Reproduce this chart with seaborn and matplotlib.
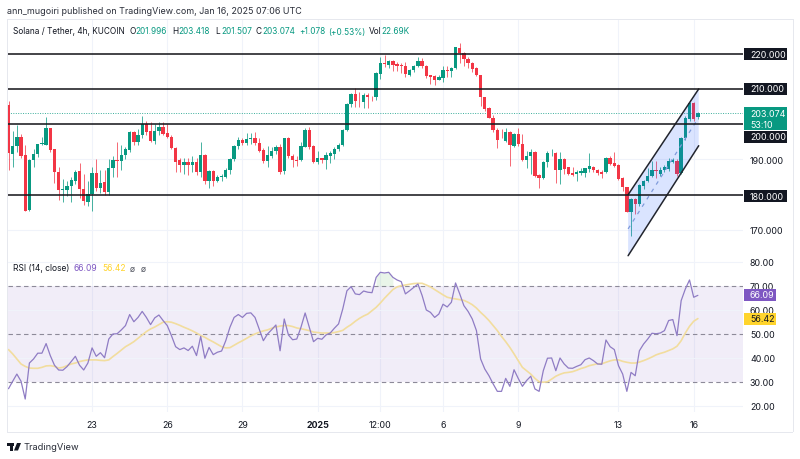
import numpy as np
import pandas as pd
import seaborn as sns
import matplotlib
matplotlib.use("Agg")
import matplotlib.pyplot as plt
from matplotlib.patches import Rectangle, Polygon

opens = [205.4,191.6,193.7,196.3,191.2,175.8,189.8,191.5,194.4,194.2,198.8,192.9,186.5,181.3,181.2,182.4,184,186.6,181.6,178,180.2,186.2,182,183.5,180.7,187.5,189.9,189.7,191.4,192.8,197.7,195,196.8,200,198,195.3,198,199.1,197.4,196.4,193.3,189.9,188.5,189.2,188.3,189.4,186.4,191.4,183.8,186.8,184,185,185,187,190,193.7,195.5,194.7,195.8,196,194.8,
 192.7,189.7,191.1,192.3,193.4,186.8,196.1,191.1,189.8,189.8,193.6,198.4,193.7,189.2,190.3,189.8,191.1,191.5,193,194,198.4,205.7,208.5,207,206.4,208.3,207.8,207.6,214.3,217.3,216.9,217.9,217,216.7,216.4,214,215.4,216.6,217.9,216.6,213.9,213.6,212.6,213,215.5,215,215.9,221.5,220.2,218.5,217.3,215.9,213.9,207.6,204.5,201.9,198.4,197.9,195.3,197.7,193.9,197.2,
 194.4,189.8,191.1,192,185.6,184.7,189.2,191.7,191.8,187,190.1,187.8,186.3,185.9,186.3,186.3,187.3,188,187.1,186.5,186.4,190.4,188.9,188.4,184.7,182.1,175,178.8,177.4,182.6,183.8,185.4,187,185.9,187,187.3,189.4,189.7,186.3,196.2,201.5,206,201.996]
closes = [191.8,193.7,196.3,191,175.5,189.8,191.5,194.4,194.6,198.8,192.8,186.5,181.3,181.5,182.6,184.2,186.5,181.6,178.3,180.2,186.2,182,183.4,180.7,187.5,189.9,189.7,191.4,193,197.7,195,197,200,197.7,195.3,198.2,199.1,197.2,196.4,193.2,189.4,188.5,189.2,188.3,189.4,186.4,191.4,183.8,186.8,184,185,185.2,187,190.2,193.8,195.5,194.7,195.8,196,194.8,192.3,
 189.7,191.3,192.3,193.6,186.5,196.1,191.1,189.8,189.6,193.9,198.4,193.6,189.2,190.3,189.8,191.3,191.8,193.1,194.2,198.4,205.7,208.5,206.7,206.8,208.3,207.8,207.6,214.5,217.5,217.1,217.9,216.8,216.5,216.4,214.2,215.4,216.6,217.9,216.4,213.6,213.5,212.6,213.3,215.5,215,216,221.8,220.2,218.5,217.3,215.6,213.9,207.6,204.3,201.9,198.4,195.6,197.7,197.7,194,197.2,194.4,
 189.8,191.1,192,185.4,184.7,189.2,191.8,191.8,187,190.1,187.3,185.9,185.6,186.5,186.6,187.5,188.1,187,186.2,185.9,190.4,188.7,188.2,184.6,182.1,175,178.8,177.4,182.8,184,185.4,187,186.8,187.1,187.8,189.7,189.8,185.9,196.2,201.9,206,201.6,203.074]
highs = [206.6,198.2,199.8,197.2,194,190,193,194.4,196.3,202,199,193,188,184.5,183.8,185,187,189,186,184,188,190,187,187,190,191,195,194,193.5,198,198,198.5,202.3,200.8,200.5,200,200.5,200.5,200,197,193.5,190.5,190.5,190.5,191,190.5,195,191.6,187,187,185.5,186,187.5,190.5,194,196.3,196,197.5,197.5,197.7,196,
 193.3,193.7,193.5,194.2,194.5,196.2,196.3,191.5,191,195,199,199.2,194,192.5,190.5,192,192.5,193.4,194.6,198.5,206,208.8,210.4,209,208.8,208.8,208,214.8,219,219.7,218.2,218.2,217.7,217.5,217.7,215.7,216.8,219,218.7,216.8,214,214,214,216.5,216.5,216.3,222,223,220.4,219,217.6,216.3,214,207.8,204.8,202.5,199,198.5,199,198,197.6,199,
 197.2,192.5,193,192.4,186,189.7,192.5,193,192,192,190.3,188,188,187,187.5,187.7,191.8,188.2,187.4,187,190.8,191,192,188.6,185,182.3,179,179,183,184.3,187.5,189.5,189.7,188,188.3,190.3,190.5,190,196.5,202.3,206.2,206.3,203.418]
lows = [187,187.8,192,190.3,175.3,175.5,188,190.6,194,194,192,183.3,178.5,178,179.5,178,183,179,177,176.8,175.5,181,180.5,180,180,185,185,187,190,192,194,194,196,197,195,194.5,197,197,196,193,186.5,186.5,186,185.5,186.5,185.5,185,183,182,182.5,183.5,184,184.7,186,189.5,193,194,194,194.5,194,192,
 189,187.8,190.5,191.5,186,186,190.5,188,188.2,189.5,193.5,193,189,188.8,189,187.2,189,190,192.5,193.8,198,205,205,205,204.7,204.7,206.7,207,212.8,216.2,216,215,215,214.5,213.5,213.7,214.8,216.2,216,213,211.5,211,212.4,212,213.5,213.5,215.7,217.5,216.5,216,214.8,213.7,205.2,203.7,201.7,197.8,193.3,196,195,188.2,193.4,193.8,
 189.6,187.5,186,185,182,184.5,188,191,183.3,183,186,185.6,185.2,184,185.5,185,186.5,186.5,185.5,184.8,186.2,188.5,187.8,184.3,181,175,168.4,174.5,176.8,181.5,183.5,185,184.8,185.3,186.5,186.8,189,185.3,186,195.5,201,200.8,201.507]
rsi = [27.2,30.3,33.3,30.3,22.9,37.9,39.6,42,42,46,41,37,35,34.9,36.4,38.5,40.7,37,35,37.9,44.2,40.7,42.2,40.1,47.9,50,50.1,51.7,53.5,58.1,55.1,56.9,59.4,56.9,53.9,56.7,57.9,55.6,53.5,49.3,44.7,43.5,44.2,43.1,44.9,41,49,39.9,44.4,41.4,42.4,42.9,47.2,52.8,56.9,58.1,56.9,58.6,58.8,56.9,52,
 47.2,50,51.8,53.75,43,56.25,49.6,47.6,47.9,52.8,58.75,52.8,46.8,48.2,47.8,49.6,50.4,52.4,54.2,60.4,68,69.7,66.7,66.4,67.9,67.4,67.2,73.6,75.7,75.4,75.7,73.6,72.5,71.8,66.7,68,69.4,70.8,66,60,59,56.9,58.3,62.4,61.25,63.2,71.25,66.7,61.8,59.4,56.25,51.4,39.6,35.4,32.6,29.2,26.1,26.1,31.5,28.2,35.1,31.5,
 28.2,30.6,32.4,27.1,26.1,34.7,39.9,40,34.7,40,37.5,35.8,35.7,36.5,37.2,39.3,40,38.9,37.5,37.4,47.5,44.7,43.5,36.8,33.3,26.1,34,32.6,43,45.8,47.9,50.3,50.1,50.4,51.4,55.6,56,49.3,63.9,68.75,72.5,65.3,66.09]
rsi_ma = [43.5,41.7,39.6,37.5,36.5,35.8,35.7,35.7,36.1,36.7,36.8,36.5,35.8,36.1,36.8,37.5,37.9,38.5,38.9,39.2,39.2,39.2,39,38.9,39.2,40.6,41.9,43.3,44.7,45.7,46.8,48.2,49.6,51,52.1,52.9,53.9,54.9,55.1,54.9,54.3,53.6,52.8,52.1,51.3,50.4,49.4,48.6,47.6,46.7,45.7,44.7,44.2,44.3,45.3,46.3,47.2,48.2,49.2,50,50.7,51.3,51.7,
 52.4,52.9,53.3,53.5,53.5,53.1,52.5,52.2,51.8,51.4,50.8,50.6,50.4,50.4,50.4,50.6,51,51.5,52.8,53.9,55.3,56.5,57.5,58.3,59.7,61.1,62.9,64.9,66.7,68.5,69.6,70.1,70.4,70.7,71,71.1,71.1,70.4,69.6,68.5,67.4,66.3,65.3,64.9,64.6,64.3,64,63.2,62.2,60.8,59,57.4,55.6,53.5,51.4,49,46.8,44.4,41.7,38.9,36.1,
 34.7,33.3,31.5,30.1,29.9,30.1,31.2,32.4,33.2,33.8,34,34.3,34.9,35.6,36.1,36.8,37.2,37.6,37.6,38.2,38.8,39.2,39.2,38.6,38.2,37.9,37.9,38.3,38.9,39.6,40.4,41.3,41.9,42.4,43.1,43.8,44.9,47.2,50.4,53.2,55.3,56.42]

level_prices = [220, 210, 200, 180]
last_price = 203.074
tick_bars = [20, 38, 56, 74, 89, 104, 122, 146, 164]
tick_labels = ["23", "26", "29", "2025", "12:00", "6", "9", "13", "16"]
channel_bars = [148.3, 165.2]
channel_upper = [180, 210]
channel_mid = [170.3, 201.9]
channel_lower = [162.7, 193.9]

GREEN = "#089981"; RED = "#f23645"; DARK = "#131722"; GRID = "#f0f3fa"
PURPLE = "#7e57c2"; YELLOW = "#ffd42c"; MA = "#f2dd9e"; LINE = "#8f7cc4"
SMALL = 5.95
SCALE = 6.4

sns.set_theme(style="white")
plt.rcParams["font.family"] = ["Inter", "DejaVu Sans"]

W, H = 800, 460
fig = plt.figure(figsize=(W/100, H/100), dpi=100)
fig.patch.set_facecolor("white")

def rect(x0, y0, x1, y1):
    return [x0/W, 1-y1/H, (x1-x0)/W, (y1-y0)/H]

def ft(x, y, s, **kw):
    kw.setdefault("fontsize", SMALL)
    kw.setdefault("color", DARK)
    kw.setdefault("va", "center")
    return fig.text(x/W, 1-y/H, s, **kw)

def box(x0, y0, x1, y1, color):
    fig.add_artist(Rectangle((x0/W, 1-y1/H), (x1-x0)/W, (y1-y0)/H, transform=fig.transFigure,
                             facecolor=color, edgecolor="none", zorder=5))

ax1 = fig.add_axes(rect(8, 20, 743, 262))
ax2 = fig.add_axes(rect(8, 262, 743, 413), sharex=ax1)
bars = np.arange(len(opens))
df = pd.DataFrame({"bar": bars, "open": opens, "close": closes, "high": highs, "low": lows,
                   "rsi": rsi, "ma": rsi_ma})

# ---------- price pane
ax1.set_xlim(-0.12, 175.8)
ax1.set_ylim(161.2, 229.84)
for x in tick_bars:
    ax1.axvline(x, color=GRID, lw=0.8, zorder=0)
    ax2.axvline(x, color=GRID, lw=0.8, zorder=0)
for y in [170, 190]:
    ax1.axhline(y, color=GRID, lw=0.8, zorder=0)

up = df["close"] >= df["open"]
colors = np.where(up, GREEN, RED)
ax1.vlines(df["bar"], df["low"], df["high"], colors=colors, lw=0.7, alpha=0.75, zorder=2)
ax1.bar(df["bar"], (df["close"]-df["open"]).abs().clip(lower=0.2),
        bottom=df[["open", "close"]].min(axis=1), width=0.8, color=colors, linewidth=0, zorder=2.5)

ax1.add_patch(Polygon([[channel_bars[0], channel_upper[0]], [channel_bars[1], channel_upper[1]],
                       [channel_bars[1], channel_lower[1]], [channel_bars[0], channel_lower[0]]],
                      closed=True, facecolor="#2962ff", alpha=0.17, edgecolor="none", zorder=3))
ax1.plot(channel_bars, channel_upper, color="#22252e", lw=1.1, zorder=4)
ax1.plot(channel_bars, channel_lower, color="#22252e", lw=1.1, zorder=4)
ax1.plot(channel_bars, channel_mid, color="#7f9bdc", lw=0.9, ls=(0, (3, 4)), zorder=4)
for lv in level_prices:
    ax1.axhline(lv, color="#1a1a1f", lw=1.15, zorder=4)
ax1.axhline(last_price, color=GREEN, lw=0.7, ls=(0, (1, 1.5)), alpha=0.8, zorder=1.5)

ax1.yaxis.tick_right()
ax1.set_yticks([170, 190], ["170.000", "190.000"])
ax1.tick_params(axis="y", length=0, pad=5, labelsize=SCALE, labelcolor=DARK)
ax1.tick_params(axis="x", length=0, labelbottom=False)

# ---------- RSI pane
ax2.set_ylim(17.5, 80.4)
ax2.axhspan(30, 70, color=PURPLE, alpha=0.1, lw=0, zorder=0.5)
for y in [20, 40, 60, 80]:
    ax2.axhline(y, color=GRID, lw=0.8, zorder=0.6)
for y in [30, 50, 70]:
    ax2.axhline(y, color="#8d8a99", lw=0.8, ls=(0, (4, 3)), zorder=1)
ax2.fill_between(df["bar"], 70, df["rsi"], where=df["rsi"] > 73, color="#4caf50", alpha=0.12, lw=0, zorder=1)
sns.lineplot(data=df, x="bar", y="ma", ax=ax2, color=MA, lw=1.2, estimator=None, zorder=2)
sns.lineplot(data=df, x="bar", y="rsi", ax=ax2, color=LINE, lw=0.9, estimator=None, zorder=3)
ax2.set_xlabel(""); ax2.set_ylabel("")
ax2.yaxis.tick_right()
ax2.set_yticks([20, 30, 40, 50, 60, 70, 80], ["20.00", "30.00", "40.00", "50.00", "60.00", "70.00", "80.00"])
ax2.tick_params(axis="y", length=0, pad=5, labelsize=SCALE, labelcolor=DARK)
ax2.set_xticks(tick_bars, tick_labels)
ax2.tick_params(axis="x", length=0, pad=6, labelsize=SCALE, labelcolor=DARK)
for lab in ax2.get_xticklabels():
    if lab.get_text() == "2025":
        lab.set_fontweight("bold")
for ax in (ax1, ax2):
    for s in ax.spines.values():
        s.set_visible(False)
    ax.patch.set_alpha(0)

# frame
for (x0, y0, x1, y1) in [(7, 20, 793, 20.8), (7, 433, 793, 433.8), (7, 20, 7.8, 433), (793, 20, 793.8, 433),
                         (8, 261.5, 793, 262.2)]:
    box(x0, y0, x1, y1, "#e6e8ee")

# ---------- price labels
for txt, yc in [("220.000", 55), ("210.000", 90), ("200.000", 138), ("180.000", 197)]:
    box(744, yc-6, 787, yc+6, DARK)
    ft(750, yc, txt, color="white", zorder=6, fontsize=SCALE)
box(744, 108, 787, 131, GREEN)
ft(750, 114.5, "203.074", color="white", zorder=6, fontsize=SCALE)
ft(750, 125, "53:10", color="white", zorder=6, fontsize=SCALE)
box(744, 290, 776, 302, PURPLE)
ft(750, 296, "66.09", color="white", zorder=6, fontsize=SCALE)
box(744, 314, 776, 326, YELLOW)
ft(750, 320, "56.42", color=DARK, zorder=6, fontsize=SCALE)

# ---------- header text
ft(7, 12, "ann_mugoiri published on TradingView.com, Jan 16, 2025 07:06 UTC", color="#2a2e39", fontsize=6.45)
ft(13, 32, "Solana / Tether, 4h, KUCOIN")
for x, lab, vx, val in [(129, "O", 135.5, "201.996"), (172, "H", 178, "203.418"),
                        (215, "L", 221, "201.507"), (256, "C", 262, "203.074")]:
    ft(x, 32, lab)
    ft(vx, 32, val, color=GREEN)
ft(299, 32, "+1.078", color=GREEN)
ft(328, 32, "(+0.53%)", color=GREEN)
ft(369, 32, "Vol")
ft(381, 32, "22.69K", color=GREEN)
ft(13, 269, "RSI (14, close)", fontsize=6.1)
ft(74, 269, "66.09", color=PURPLE, fontsize=6.1)
ft(102, 269, "56.42", color=YELLOW, fontsize=6.1)
ft(130, 269, "\u00f8", color="#50535e", fontsize=6.1)
ft(141, 269, "\u00f8", color="#50535e", fontsize=6.1)

# ---------- TradingView mark
fig.add_artist(Rectangle((7/W, 1-447/H), 7/W, 3/H, transform=fig.transFigure, facecolor="#131722", edgecolor="none"))
fig.add_artist(Rectangle((10/W, 1-451.5/H), 3/W, 5/H, transform=fig.transFigure, facecolor="#131722", edgecolor="none"))
fig.add_artist(Polygon([[17/W, 1-444/H], [21/W, 1-444/H], [18/W, 1-451.5/H], [14/W, 1-451.5/H]],
                       transform=fig.transFigure, facecolor="#131722", edgecolor="none"))
ft(24, 448, "TradingView", fontsize=6.7, color="#2a2e39")

fig.savefig("out.png", dpi=100, facecolor="white")
